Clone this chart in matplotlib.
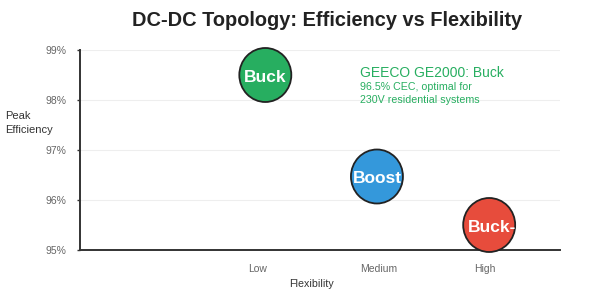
import matplotlib
matplotlib.use('Agg')
import matplotlib.pyplot as plt
from matplotlib.patches import Ellipse

plt.rcParams['font.family'] = ['Liberation Sans', 'DejaVu Sans']

topologies = ['Buck', 'Boost', 'Buck-Boost']
flex_score = [1.06, 1.975, 2.895]
efficiency = [98.5, 96.47, 95.5]
colors = ['#27ae60', '#3498db', '#e74c3c']
flex_levels = ['Low', 'Medium', 'High']
flex_ticks = [1.0, 1.99, 2.86]
eff_ticks = [95, 96, 97, 98, 99]
eff_labels = ['95%', '96%', '97%', '98%', '99%']
note_title = 'GEECO GE2000: Buck'
note_lines = ['96.5% CEC, optimal for', '230V residential systems']

W, H = 600, 300
fig = plt.figure(figsize=(6, 3), dpi=100)
ax_l, ax_r, ax_t, ax_b = 80, 560, 50, 250
ax = fig.add_axes([ax_l / W, 1 - ax_b / H, (ax_r - ax_l) / W, (ax_b - ax_t) / H])

# x scale: 122 px per unit, Low (1) at 258 px
pxu = 122.0
ax.set_xlim(1 - (258 - ax_l) / pxu, 1 + (ax_r - 258) / pxu)
ax.set_ylim(95, 99)
pyu = (ax_b - ax_t) / 4.0

ax.set_yticks(eff_ticks)
ax.set_yticklabels(eff_labels)
ax.set_xticks(flex_ticks)
ax.set_xticklabels(flex_levels)
ax.tick_params(axis='y', length=2, width=1, color='#333333', labelcolor='#666666', labelsize=7.5, pad=8)
ax.tick_params(axis='x', length=0, labelcolor='#666666', labelsize=7.5, pad=10)
ax.grid(axis='y', color='#eeeeee', linewidth=0.8)
ax.set_axisbelow(True)
for s in ['top', 'right']:
    ax.spines[s].set_visible(False)
for s in ['left', 'bottom']:
    ax.spines[s].set_color('#333333')
    ax.spines[s].set_linewidth(1.4)

rx_px, ry_px = 26, 27
for name, x, y, c in zip(topologies, flex_score, efficiency, colors):
    e = Ellipse((x, y), 2 * rx_px / pxu, 2 * ry_px / pyu, facecolor=c,
                edgecolor='#222222', linewidth=1.3, zorder=5, clip_on=False)
    ax.add_patch(e)
    if len(name) > 6:
        t = ax.annotate(name, (x, y), xytext=(-15.5, -1.5), textcoords='offset points',
                        ha='left', va='center', color='white', fontsize=12.5,
                        fontweight='bold', zorder=6, annotation_clip=False)
    else:
        t = ax.annotate(name, (x, y), xytext=(0, -1.5), textcoords='offset points',
                        ha='center', va='center', color='white', fontsize=12.5,
                        fontweight='bold', zorder=6, annotation_clip=False)
    t.set_clip_path(e)

def px2data(px, py):
    return 1 + (px - 258) / pxu, 99 - (py - ax_t) / pyu

nx, ny = px2data(360, 73)
ax.text(nx, ny, note_title, color='#27ae60', fontsize=10, ha='left', va='center')
for i, line in enumerate(note_lines):
    lx, ly = px2data(360, 87 + 13 * i)
    ax.text(lx, ly, line, color='#27ae60', fontsize=7.7, ha='left', va='center')

fig.text(327 / W, 1 - 21 / H, 'DC-DC Topology: Efficiency vs Flexibility',
         ha='center', va='center', fontsize=14.4, fontweight='bold', color='#222222')
fig.text(312 / W, 1 - 284 / H, 'Flexibility', ha='center', va='center',
         fontsize=7.7, color='#333333')
fig.text(5 / W, 1 - 123 / H, 'Peak\nEfficiency', ha='left', va='center',
         fontsize=8, color='#333333', linespacing=1.5)

fig.savefig('out.png', dpi=100)
